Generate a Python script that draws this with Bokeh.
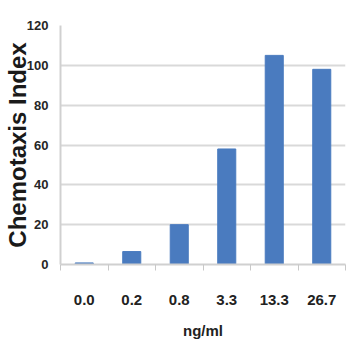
import numpy as np
from bokeh.plotting import figure
from bokeh.models import Range1d, FixedTicker, ColumnDataSource
from bokeh.embed import file_html
from bokeh.resources import INLINE

categories = ["0.0", "0.2", "0.8", "3.3", "13.3", "26.7"]
values = [0.8, 6.5, 20, 58, 105, 98]
y_ticks = [0, 20, 40, 60, 80, 100, 120]
x_title = "ng/ml"
y_title = "Chemotaxis Index"

FONT = "Liberation Sans"

xs = np.arange(len(categories)) + 0.5
src = ColumnDataSource(dict(x=xs, top=values, cat=categories))

p = figure(width=358, height=358, output_backend="svg", toolbar_location=None,
           x_range=Range1d(0, len(categories)), y_range=Range1d(0, 120),
           min_border_left=56, min_border_right=13, min_border_top=25, min_border_bottom=94)
p.outline_line_color = None
p.background_fill_color = "white"
p.border_fill_color = "white"

p.vbar(x="x", top="top", width=0.38, source=src, color="#4a7bbf")

p.xgrid.visible = False
p.ygrid.ticker = FixedTicker(ticks=y_ticks)
p.ygrid.grid_line_color = "#d9d9d9"
p.ygrid.grid_line_width = 2

# x axis
xa = p.xaxis[0]
xa.ticker = FixedTicker(ticks=list(xs), minor_ticks=list(range(len(categories) + 1)))
xa.major_label_overrides = {float(x): c for x, c in zip(xs, categories)}
xa.major_tick_out = 0
xa.major_tick_in = 0
xa.minor_tick_out = 6
xa.minor_tick_in = 0
xa.minor_tick_line_color = "#c8c8c8"
xa.axis_line_color = "#d0d0d0"
xa.axis_line_width = 2
xa.major_label_standoff = 24
xa.major_label_text_font = FONT
xa.major_label_text_font_style = "bold"
xa.major_label_text_font_size = "15px"
xa.major_label_text_color = "#222222"
xa.axis_label = x_title
xa.axis_label_text_font = FONT
xa.axis_label_text_font_style = "bold"
xa.axis_label_text_font_size = "15px"
xa.axis_label_text_color = "#222222"
xa.axis_label_standoff = 14

# y axis
ya = p.yaxis[0]
ya.ticker = FixedTicker(ticks=y_ticks)
ya.major_tick_out = 0
ya.major_tick_in = 0
ya.minor_tick_out = 0
ya.minor_tick_in = 0
ya.axis_line_color = "#d0d0d0"
ya.axis_line_width = 2
ya.major_label_standoff = 12
ya.major_label_text_font = FONT
ya.major_label_text_font_style = "bold"
ya.major_label_text_font_size = "13px"
ya.major_label_text_color = "#262626"
ya.axis_label = y_title
ya.axis_label_text_font = FONT
ya.axis_label_text_font_style = "bold"
ya.axis_label_text_font_size = "24px"
ya.axis_label_text_color = "#1a1a1a"
ya.axis_label_standoff = -7

open("out.html", "w").write(file_html(p, INLINE))
